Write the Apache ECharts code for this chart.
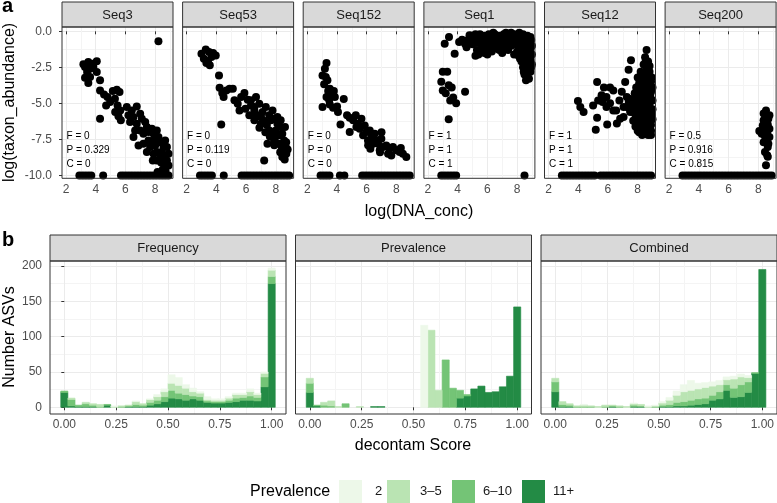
<!DOCTYPE html>
<html><head><meta charset="utf-8">
<script src="https://cdn.jsdelivr.net/npm/echarts@6/dist/echarts.min.js"></script>
<style>html,body{margin:0;padding:0;background:#fff}#c{width:777px;height:503px}</style>
</head><body><div id="c"></div>
<script>
// ---------- data ----------
const facetA = ['Seq3','Seq53','Seq152','Seq1','Seq12','Seq200'];
const statF = ['0','0','0','1','1','0.5'];
const statP = ['0.329','0.119','0','1','1','0.916'];
const statC = ['0','0','0','1','1','0.815'];

const xTicksA = [2,4,6,8];
const xMinorA = [3,5,7,9];
const yTicksA = [-10,-7.5,-5,-2.5,0];
const yMinorA = [-8.75,-6.25,-3.75,-1.25];

const seq3 = [[8.22,-0.69],[3.17,-2.29],[3.5,-2.13],[3.8,-2.25],[4.07,-2.08],[3.28,-2.48],[3.62,-2.6],[3.84,-2.48],[3.42,-2.83],[4.07,-2.83],[3.62,-3.17],[3.28,-3.22],[3.5,-3.59],[4.29,-3.4],[4.29,-4.1],[4.56,-4.38],[4.79,-4.56],[5.15,-4.14],[5.42,-4.05],[5.6,-4.21],[5.29,-4.68],[4.97,-4.91],[4.7,-5.14],[5.47,-5.14],[5.65,-5.49],[5.31,-5.6],[5.53,-5.9],[5.69,-6.18],[4.29,-6.06],
 [6.09,-5.25],[6.43,-5.49],[6.76,-5.21],[6.99,-5.72],[6.54,-5.95],[6.2,-5.83],[6.31,-6.3],[6.76,-6.41],[7.1,-6.06],[7.33,-6.3],[7.44,-6.64],[6.99,-6.88],[6.65,-6.88],[7.21,-7.11],[7.55,-6.99],[7.78,-6.76],[7.89,-7.11],[8.11,-6.88],[8.22,-7.34],[7.89,-7.57],[7.55,-7.57],[7.21,-7.8],[7.66,-8.03],[8.0,-7.92],[8.34,-7.69],[8.56,-8.03],[8.45,-8.38],[8.11,-8.38],[8.67,-8.73],[8.34,-8.73],[8.56,-9.19],[8.79,-8.96],[8.9,-9.31],[8.67,-9.42],[8.11,-8.96],[7.89,-8.5],[6.88,-7.92],[6.54,-7.34],[7.44,-8.38],[8.16,-9.77],[8.9,-8.5],[8.79,-8.03],[8.67,-7.57],[7.84,-8.96],[8.5,-9.6],[8.7,-9.7],[8.4,-9.1]];
const seq3Floor = [2.9,3.1,3.3,3.5,3.7,4.5,5.7,5.9,6.1,6.3,6.5,6.7,6.9,7.1,7.3,7.5,7.7,7.9,8.1,8.3,8.5,8.7,8.9];

const seq53 = [[3.0,-1.55],[3.29,-1.27],[3.51,-1.44],[3.78,-1.5],[3.16,-1.9],[3.44,-2.06],[3.67,-1.78],[3.96,-1.67],[3.56,-2.36],[3.33,-2.2],[4.18,-3.06],[4.22,-3.91],[4.4,-4.28],[4.67,-4.1],[4.89,-3.98],[4.49,-4.56],[4.33,-6.46],[5.11,-3.98],[5.22,-4.79],[5.44,-5.02],[5.67,-4.56],[5.89,-4.28],[6.11,-4.75],[5.96,-5.37],[5.56,-5.49],[6.33,-5.14],[6.22,-5.83],[6.56,-5.49],[6.67,-5.95],
 [6.33,-4.79],[6.67,-4.56],[6.56,-5.25],[6.89,-5.02],[7.11,-5.6],[6.78,-5.83],[7.33,-5.25],[7.56,-5.83],[7.78,-5.49],[7.67,-6.18],[7.89,-6.06],[8.11,-6.41],[8.0,-6.88],[8.33,-6.64],[8.22,-7.22],[8.44,-7.11],[8.56,-7.57],[8.4,-8.03],[8.67,-8.03],[8.71,-8.5],[8.44,-8.73],[7.22,-8.96],[7.44,-7.8],[7.89,-7.57],[7.0,-6.41],[6.56,-6.18],[7.56,-6.88],[8.11,-5.95],[8.33,-6.18],[8.62,-6.64],
 [7.2,-6.2],[7.4,-6.5],[7.8,-7.0],[8.0,-7.3],[8.2,-7.8],[8.5,-8.3],[8.6,-8.9],[8.3,-8.4],[7.9,-7.9],[7.6,-7.3],[7.0,-5.9],[6.9,-6.7],[8.7,-7.7],[8.8,-8.2],[7.3,-7.0]];
const seq53Floor = [2.9,3.1,3.3,3.5,3.7,4.5,5.7,5.9,6.1,6.3,6.5,6.7,6.9,7.1,7.3,7.5,7.7,7.9,8.1,8.3,8.5,8.7,8.9];

const seq152 = [[3.3,-2.2],[3.19,-2.6],[3.03,-3.06],[3.25,-3.17],[3.36,-3.4],[3.14,-3.68],[3.52,-3.98],[3.41,-4.14],[3.79,-4.14],[3.3,-4.56],[3.03,-5.25],[3.52,-5.07],[3.74,-5.3],[4.07,-5.6],[4.46,-4.7],[4.68,-5.83],[4.24,-6.46],[4.86,-6.0],[3.86,-4.56],[3.63,-4.44],[3.48,-4.79],[4.01,-5.21],
 [5.09,-6.18],[5.27,-5.83],[5.42,-6.41],[5.65,-6.06],[5.53,-6.76],[5.87,-6.53],[5.98,-6.99],[5.76,-7.22],[6.21,-6.88],[6.32,-7.34],[6.54,-7.11],[6.65,-7.57],[6.43,-7.8],[6.77,-7.8],[6.99,-7.45],[7.1,-8.03],[6.88,-8.26],[7.32,-7.92],[7.55,-8.15],[7.44,-8.5],[7.77,-8.03],[8.0,-8.26],[8.22,-8.38],[8.44,-8.5],[8.67,-8.73],[7.66,-8.61],[6.09,-7.57],[6.25,-8.15],[5.31,-6.64],[4.86,-6.99],[6.1,-7.9],[7.0,-7.0],[8.3,-8.1],[6.9,-8.4]];
const seq152Floor = [2.9,3.1,3.3,3.5,4.2,4.5,5.7,5.9,6.1,6.3,6.5,6.7,6.9,7.1,7.3,7.5,7.7,7.9,8.1,8.3,8.5,8.7,8.9];

const seq1 = [[3.13,-0.86],[3.42,-0.39],[2.9,-3.5],[3.0,-2.8],[3.3,-2.8],[3.4,-3.75],[3.6,-3.9],[3.0,-4.1],[3.2,-4.3],[3.5,-4.8],[3.7,-4.6],[3.9,-5.0],[3.4,-6.1],[4.5,-4.2],[3.8,-1.55],[4.1,-0.74],[4.3,-0.58],[4.5,-0.86],[4.8,-0.28],[4.6,-1.1],
 [4.9,-0.3],[5.1,-0.5],[5.2,-0.2],[5.3,-0.8],[5.4,-0.4],[5.5,-0.2],[5.6,-0.6],[5.7,-1.2],[5.8,-0.3],[5.9,-0.8],[6.0,-0.5],[6.1,-0.2],[6.2,-1.0],[6.3,-0.4],[6.4,-0.7],[6.5,-0.2],[6.6,-1.2],[6.7,-0.5],[6.8,-0.3],[6.9,-0.9],[7.0,-0.6],[7.1,-0.2],[7.2,-1.1],[7.3,-0.4],[7.4,-0.7],[7.5,-0.3],[7.6,-1.0],[7.7,-0.5],[7.8,-0.2],[7.9,-0.8],[8.0,-0.4],[8.1,-1.1],[8.2,-0.3],[8.3,-0.7],[8.4,-0.2],[8.5,-1.0],[8.6,-0.5],[8.7,-0.3],[8.8,-0.8],[8.9,-0.4],[9.0,-1.0],
 [5.0,-0.9],[5.3,-1.3],[5.6,-0.9],[5.9,-0.4],[6.2,-0.6],[6.5,-0.9],[6.8,-1.3],[7.1,-0.7],[7.4,-1.3],[7.7,-0.9],[8.0,-1.4],[8.3,-1.2],[8.6,-1.4],[8.9,-1.2],[5.2,-1.7],[6.0,-1.6],[6.3,-1.4],[7.0,-1.5],[7.8,-1.6],[8.2,-1.9],[8.4,-1.6],[8.7,-1.8],[8.9,-2.0],[8.5,-2.2],[8.8,-2.4],[8.6,-2.7],[8.4,-2.5],[8.9,-2.8],[8.7,-3.1],[8.5,-3.0],[8.6,-3.4],[8.8,-3.3],[8.3,-2.1],[9.0,-1.6],[9.0,-2.3],[8.1,-1.7],[7.6,-0.1],[6.4,-0.1],[5.4,-1.6],[4.7,-0.6],[5.8,-1.5],
 [5.05,-0.7],[5.35,-0.6],[5.65,-0.4],[5.95,-1.1],[6.25,-0.8],[6.55,-0.5],[6.85,-0.7],[7.15,-0.4],[7.45,-0.9],[7.75,-0.7],[8.05,-0.8],[8.35,-0.5],[8.65,-0.8],[8.95,-0.6],[7.25,-0.1],[8.15,-0.1],[8.75,-1.1],[8.45,-1.3],[8.55,-1.9],[8.85,-1.5],[8.65,-2.2],[8.75,-2.6],[8.45,-2.8],[8.95,-2.5]];
const seq1Floor = [2.9,3.1,3.3,3.5,3.7,3.9,8.5];

const seq12 = [[3.98,-4.84],[4.14,-5.25],[4.36,-5.6],[5.0,-5.14],[5.27,-6.0],[5.18,-6.83],[5.95,-6.46],[5.27,-3.52],[5.73,-3.9],[5.57,-4.44],[5.9,-4.56],[6.14,-3.9],[6.36,-4.1],[6.14,-5.0],[6.55,-5.5],[6.6,-6.4],[6.77,-4.8],[7.05,-5.95],[7.16,-3.52],[7.39,-2.66],[7.27,-4.56],[7.27,-5.25],[6.93,-4.2],[5.9,-5.25],[6.36,-5.5],[5.64,-4.9],[5.34,-4.8],[7.05,-5.25],[7.55,-2.0],[6.82,-6.06],[7.5,-5.5],
 [8.6,-1.3],[8.5,-1.8],[8.7,-2.1],[8.4,-2.3],[8.6,-2.6],[8.8,-2.8],[8.2,-2.8],[8.5,-3.0],[8.0,-3.2],[8.3,-3.3],[8.7,-3.3],[8.9,-3.5],[8.1,-3.6],[8.4,-3.7],[8.6,-3.9],[7.9,-3.9],[8.8,-4.0],[8.2,-4.1],[8.5,-4.3],[7.8,-4.3],[8.0,-4.5],[8.7,-4.5],[8.9,-4.7],[8.3,-4.7],[7.7,-4.8],[8.1,-4.9],[8.5,-5.0],[8.8,-5.1],[7.9,-5.2],[8.3,-5.3],[8.6,-5.4],[9.0,-5.4],[7.7,-5.5],[8.1,-5.6],[8.4,-5.7],[8.8,-5.8],[7.9,-5.9],[8.2,-6.0],[8.6,-6.1],[9.0,-6.1],[7.7,-6.2],[8.0,-6.3],[8.4,-6.4],[8.8,-6.5],[8.2,-6.7],[8.6,-6.8],[8.9,-6.9],[8.0,-6.9],[8.4,-7.1],[8.7,-7.2],[8.5,-6.6],[8.3,-6.2],[7.8,-5.7],[8.9,-4.2],[8.6,-4.7],[8.0,-4.0],[8.7,-3.6],[8.4,-2.9],[8.5,-5.5],[8.2,-5.0],[8.6,-5.9],[8.9,-6.5],[7.6,-5.0],[7.5,-4.7],[7.4,-4.9],[7.5,-5.6],[8.1,-7.0],[9.0,-4.8],[9.0,-3.9],[8.8,-2.4],
 [8.45,-3.5],[8.75,-3.9],[8.25,-3.9],[8.55,-4.6],[8.15,-4.3],[8.05,-5.3],[8.35,-5.0],[8.75,-5.5],[8.45,-6.0],[8.15,-6.5],[8.75,-6.2],[7.85,-6.6],[8.55,-7.0],[8.85,-4.4],[8.95,-5.8],[7.85,-4.7],[8.25,-3.4],[8.55,-2.0],[8.65,-3.0],[8.95,-3.2],[8.3,-7.2],[8.9,-7.2]];
const seq12Floor = [2.9,3.1,3.3,3.5,3.7,3.9,4.1,4.3,4.5,4.7,4.9,5.1,5.5,5.7,5.9,6.1,6.3,6.5,6.7,6.9,7.1,7.3,7.5,7.7,7.9,8.1,8.3,8.5,8.7,8.9];

const seq200 = [[8.52,-5.49],[8.75,-5.83],[8.36,-6.18],[8.64,-6.46],[8.4,-6.76],[8.07,-6.92],[8.23,-7.1],[8.6,-6.99],[8.45,-7.29],[8.75,-7.34],[8.52,-7.57],[8.64,-8.03],[8.45,-8.38],[8.6,-8.6],[8.64,-8.7],[8.52,-9.3],[8.36,-5.7],[8.68,-6.06],[8.3,-6.53],[8.75,-6.76],[8.36,-7.7],[8.68,-7.8]];
const seq200Floor = [2.9,3.1,3.3,3.5,3.7,3.9,4.1,4.3,4.5,4.7,4.9,5.1,5.3,5.5,5.7,5.9,6.1,6.3,6.5,6.7,6.9,7.1,7.3,7.5,7.7,7.9,8.1,8.3,8.5,8.7,8.9];

const pointsA = [seq3, seq53, seq152, seq1, seq12, seq200];
const floorsA = [seq3Floor, seq53Floor, seq152Floor, seq1Floor, seq12Floor, seq200Floor];
const floorY = -10;

// histogram (30 bins of width 1/29 centred on 0 ... 1)
const facetB = ['Frequency','Prevalence','Combined'];
const binWidth = 1/29;
const binCenters = Array.from({length:30}, (_, i) => i * binWidth);
const xTicksB = [0,0.25,0.5,0.75,1];
const xMinorB = [0.125,0.375,0.625,0.875];
const yTicksB = [0,50,100,150,200];
const yMinorB = [25,75,125,175];

const prevLevels = ['2','3–5','6–10','11+'];
const prevColors = ['#edf8e9','#bae4b3','#74c476','#238b45'];

const freq11   = [21,2,1,1,1,0,3,0,0,1,1,1,3,5,8,13,12,10,12,10,7,6,6,7,8,10,10,9,29,175];
const freq6_10 = [2,9,2,4,2,1,1,0,1,1,3,2,4,5,7,11,8,8,4,5,2,2,2,3,5,4,6,5,14,10];
const freq3_5  = [0,2,0,2,2,3,0,1,1,1,4,2,4,5,7,10,11,9,6,5,2,2,2,3,5,4,6,4,5,9];
const freq2    = [0,0,0,0,0,0,0,1,0,0,1,0,1,3,4,12,11,5,5,2,4,2,2,2,2,2,4,2,2,3];

const prev11   = [21,2,0,0,0,0,0,0,0,1,1,0,0,0,0,0,0,0,0,0,0,13,16,26,30,21,22,29,44,142];
const prev6_10 = [13,1,3,2,0,5,0,0,0,0,0,0,0,0,0,0,0,0,0,67,27,11,2,0,0,0,0,0,0,0];
const prev3_5  = [7,0,4,7,1,0,0,1,0,0,0,0,0,0,0,0,0,109,24,0,0,0,0,0,0,0,0,0,0,0];
const prev2    = [0,0,0,0,0,0,0,0,0,0,0,0,0,0,0,0,116,0,0,0,0,0,0,0,0,0,0,0,0,0];

const comb11   = [22,1,1,0,0,0,0,0,1,0,0,1,1,0,0,1,1,2,2,3,4,5,10,12,24,14,15,21,48,195];
const comb6_10 = [14,3,2,1,1,1,0,1,1,1,0,2,1,0,1,2,3,5,6,7,8,8,7,10,8,13,17,15,1,0];
const comb3_5  = [5,4,2,1,2,1,1,2,1,1,1,2,2,1,1,3,6,10,14,14,14,15,13,10,7,13,11,6,0,0];
const comb2    = [0,0,0,0,1,0,0,0,0,0,0,1,0,1,1,2,4,6,10,14,8,7,6,6,4,4,4,3,0,0];

// stacking order bottom -> top : 11+, 6–10, 3–5, 2
const histB = [
  [freq11, freq6_10, freq3_5, freq2],
  [prev11, prev6_10, prev3_5, prev2],
  [comb11, comb6_10, comb3_5, comb2]
];

// ---------- layout ----------
const FONT = '"Liberation Sans", Arial, Helvetica, sans-serif';
const A_LEFT = [62, 182.6, 303.2, 423.9, 544.5, 665.1], A_W = 111, A_TOP = 27, A_H = 151.3;
const A_XMIN = 1.73, A_XMAX = 9.2, A_YMIN = -10.2, A_YMAX = 0.3;
const B_LEFT = [50, 295.5, 541], B_W = 236, B_TOP = 261, B_H = 153;
const B_XMIN = -0.069, B_XMAX = 1.069, B_YMIN = -9.5, B_YMAX = 207;
const LEG_BOX_X = [339, 387, 452, 522], LEG_TEXT_X = [375, 420, 483, 553], LEG_TOP = 480, LEG_BOX = 23;

const grids = [], xAxes = [], yAxes = [], series = [], graphics = [];

function addAxes(gi, xr, yr, xMaj, xMin, yMaj, yMin, xFmt, yFmt, showY, yMargin) {
  const lab = {fontSize: 12, color: '#4d4d4d', fontFamily: FONT};
  xAxes.push({gridIndex: gi, type: 'value', min: xr[0], max: xr[1], position: 'bottom',
    axisLine: {show: false},
    axisTick: {show: true, length: 3, lineStyle: {color: '#333333', width: 1}, customValues: xMaj},
    axisLabel: Object.assign({show: true, margin: 5, customValues: xMaj, formatter: xFmt}, lab),
    splitLine: {show: true, lineStyle: {color: '#ebebeb', width: 1}}});
  xAxes.push({gridIndex: gi, type: 'value', min: xr[0], max: xr[1], position: 'top',
    axisLine: {show: false}, axisTick: {show: false, customValues: xMin}, axisLabel: {show: false},
    splitLine: {show: true, lineStyle: {color: '#f4f4f4', width: 1}}});
  yAxes.push({gridIndex: gi, type: 'value', min: yr[0], max: yr[1], position: 'left',
    axisLine: {show: false},
    axisTick: {show: showY, length: 3, lineStyle: {color: '#333333', width: 1}, customValues: yMaj},
    axisLabel: Object.assign({show: showY, margin: yMargin, customValues: yMaj, formatter: yFmt}, lab),
    splitLine: {show: true, lineStyle: {color: '#ebebeb', width: 1}}});
  yAxes.push({gridIndex: gi, type: 'value', min: yr[0], max: yr[1], position: 'right',
    axisLine: {show: false}, axisTick: {show: false, customValues: yMin}, axisLabel: {show: false},
    splitLine: {show: true, lineStyle: {color: '#f4f4f4', width: 1}}});
}

function strip(left, top, w, h, text) {
  graphics.push({type: 'rect', shape: {x: left, y: top, width: w, height: h},
    style: {fill: '#d9d9d9', stroke: '#333333', lineWidth: 1}, z: 100});
  graphics.push({type: 'text', x: left + w / 2, y: top + h / 2 + 0.5, z: 101,
    style: {text: text, fill: '#1a1a1a', font: '13px ' + FONT, textAlign: 'center', textVerticalAlign: 'middle'}});
}
function border(left, top, w, h) {
  graphics.push({type: 'rect', shape: {x: left, y: top, width: w, height: h},
    style: {fill: 'none', stroke: '#333333', lineWidth: 1}, z: 100, silent: true});
}

// panel a
facetA.forEach((name, i) => {
  grids.push({left: A_LEFT[i], top: A_TOP, width: A_W, height: A_H, show: false});
  addAxes(i, [A_XMIN, A_XMAX], [A_YMIN, A_YMAX], xTicksA, xMinorA, yTicksA, yMinorA,
    v => String(v), v => v.toFixed(1), i === 0, 10);
  const data = pointsA[i].concat(floorsA[i].map(x => [x, floorY]));
  series.push({type: 'scatter', xAxisIndex: 2 * i, yAxisIndex: 2 * i, data: data,
    symbol: 'circle', symbolSize: 8, itemStyle: {color: '#000000', opacity: 1}, silent: true, z: 3});
  strip(A_LEFT[i], 2, A_W, A_TOP - 2, name);
  border(A_LEFT[i], A_TOP, A_W, A_H);
  const tx = A_LEFT[i] + 4.5;
  [['F = ', statF[i], 136], ['P = ', statP[i], 150], ['C = ', statC[i], 164]].forEach(t => {
    graphics.push({type: 'text', x: tx, y: t[2], z: 50,
      style: {text: t[0] + t[1], fill: '#000000', font: '10px ' + FONT, textAlign: 'left', textVerticalAlign: 'middle'}});
  });
});

// panel b
facetB.forEach((name, j) => {
  const gi = 6 + j;
  grids.push({left: B_LEFT[j], top: B_TOP, width: B_W, height: B_H, show: false});
  addAxes(gi, [B_XMIN, B_XMAX], [B_YMIN, B_YMAX], xTicksB, xMinorB, yTicksB, yMinorB,
    v => v.toFixed(2), v => String(v), j === 0, 8);
  const layers = histB[j];
  const base = new Array(30).fill(0);
  for (let k = 0; k < 4; k++) {
    const levelIdx = 3 - k; // 11+ first (bottom)
    const vals = layers[k];
    const color = prevColors[levelIdx];
    const data = [];
    for (let b = 0; b < 30; b++) {
      if (vals[b] > 0) data.push([binCenters[b], base[b], base[b] + vals[b]]);
      base[b] += vals[b];
    }
    series.push({type: 'custom', name: prevLevels[levelIdx], xAxisIndex: 2 * gi, yAxisIndex: 2 * gi,
      itemStyle: {color: color}, silent: true, z: 3,
      encode: {x: 0, y: [1, 2]},
      renderItem: function (params, api) {
        const c = api.value(0), y0 = api.value(1), y1 = api.value(2);
        const p0 = api.coord([c - binWidth / 2, y1]);
        const p1 = api.coord([c + binWidth / 2, y0]);
        return {type: 'rect', shape: {x: p0[0], y: p0[1], width: p1[0] - p0[0], height: p1[1] - p0[1]},
          style: {fill: color, stroke: color, lineWidth: 0.6}};
      },
      data: data});
  }
  strip(B_LEFT[j], 235, B_W, B_TOP - 235, name);
  border(B_LEFT[j], B_TOP, B_W, B_H);
});

// titles and tags
function txt(text, x, y, size, opts) {
  graphics.push(Object.assign({type: 'text', x: x, y: y, z: 120,
    style: {text: text, fill: (opts && opts.color) || '#000000', font: (opts && opts.bold ? 'bold ' : '') + size + 'px ' + FONT,
      textAlign: (opts && opts.align) || 'center', textVerticalAlign: 'middle'}},
    opts && opts.rot ? {rotation: opts.rot} : {}));
}
txt('a', 2, 6, 20, {bold: true, align: 'left'});
txt('b', 2, 240, 20, {bold: true, align: 'left'});
txt('log(taxon_abundance)', 10, 102.5, 16, {rot: Math.PI / 2});
txt('log(DNA_conc)', 419, 211.5, 16);
txt('Number ASVs', 10, 337, 16, {rot: Math.PI / 2});
txt('decontam Score', 413, 445.5, 16);

// legend
txt('Prevalence', 250, 491.5, 16, {align: 'left'});
prevLevels.forEach((lvl, i) => {
  graphics.push({type: 'rect', shape: {x: LEG_BOX_X[i], y: LEG_TOP, width: LEG_BOX, height: LEG_BOX},
    style: {fill: prevColors[i], stroke: null}, z: 110});
  txt(lvl, LEG_TEXT_X[i], LEG_TOP + LEG_BOX / 2, 13, {align: 'left', color: '#1a1a1a'});
});

const chart = echarts.init(document.getElementById('c'), null, {renderer: 'canvas'});
chart.setOption({
  animation: false,
  backgroundColor: '#ffffff',
  textStyle: {fontFamily: FONT},
  grid: grids,
  xAxis: xAxes,
  yAxis: yAxes,
  series: series,
  graphic: graphics
});
</script></body></html>
